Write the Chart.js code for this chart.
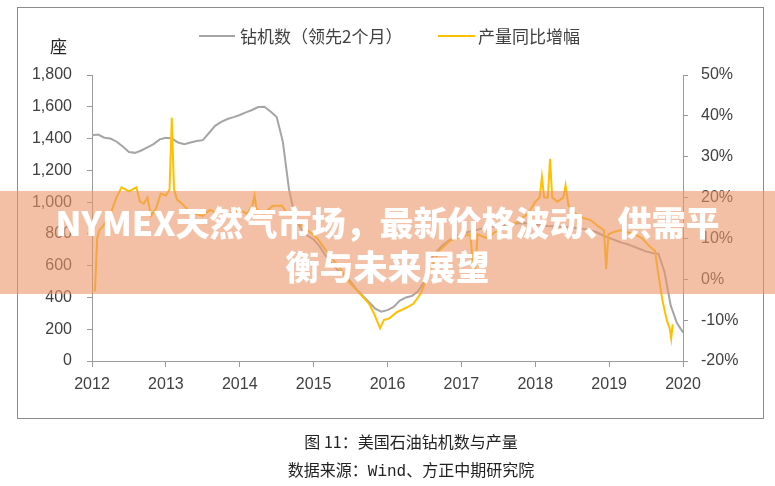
<!DOCTYPE html>
<html>
<head>
<meta charset="utf-8">
<script src="https://cdn.jsdelivr.net/npm/chart.js@4"></script>
<style>
  body { margin: 0; background: #fff; width: 775px; height: 486px; position: relative; overflow: hidden;
         font-family: 'Noto Sans CJK SC', 'Noto Sans', sans-serif; }
  #frame { position: absolute; left: 17px; top: 7px; width: 745px; height: 410px; border: 1px solid #8c8c8c; }
  #chart { position: absolute; left: 0; top: 0; }
  .lg-line { position: absolute; height: 2px; top: 35px; }
  .lg-text { position: absolute; top: 24px; font-size: 17px; line-height: 24px; color: #404040; white-space: nowrap; }
  #unit { position: absolute; left: 50px; top: 34px; font-size: 17px; line-height: 24px; color: #262626; }
  #banner { position: absolute; left: 0; top: 191px; width: 775px; height: 103px; background: rgba(236,150,105,0.6); }
  #banner div { padding-top: 9px; text-align: center; color: #fff; font-weight: 900; font-size: 34px; line-height: 44px; white-space: nowrap; }
  .cap { position: absolute; left: 111px; width: 600px; text-align: center; font-size: 16px; color: #222; line-height: 22px; }
  .mono { font-family: 'Liberation Mono', monospace; }
</style>
</head>
<body>
<div id="frame"></div>
<canvas id="chart" width="775" height="486"></canvas>

<div id="unit">座</div>
<div class="lg-line" style="left:199px;width:36px;background:#A5A5A5"></div>
<div class="lg-text" style="left:240px">钻机数（领先2个月）</div>
<div class="lg-line" style="left:438px;width:37px;background:#FFC000"></div>
<div class="lg-text" style="left:478px">产量同比增幅</div>

<div id="banner"><div>NYMEX天然气市场，最新价格波动、供需平<br>衡与未来展望</div></div>

<div class="cap" style="top:430px">图 11：美国石油钻机数与产量</div>
<div class="cap" style="top:458px">数据来源：<span class="mono">Wind</span>、方正中期研究院</div>

<script>
// 钻机数（领先2个月），月度，2012-01 ~ 2020-01
const rigCount = [
  1420, 1425, 1405, 1400, 1380, 1350, 1315, 1310, 1325, 1345, 1365, 1395,
  1405, 1400, 1375, 1365, 1375, 1385, 1390, 1435, 1480, 1505, 1523, 1535,
  1548, 1565, 1580, 1598, 1600, 1570, 1535, 1380, 1080, 900, 830, 790,
  765, 720, 660, 610, 570, 540, 500, 450, 410, 370, 330, 310,
  320, 340, 380, 400, 410, 440, 500, 640, 690, 730, 760, 780,
  800, 810, 820, 830, 840, 845, 850, 855, 860, 865, 868, 865,
  860, 855, 850, 848, 845, 843, 840, 835, 830, 822, 810, 790,
  775, 760, 745, 735, 720, 705, 690, 680, 675, 560, 350, 240,
  180
];

// 产量同比增幅（%），按时间点
const outputDates = [
  2012.04, 2012.07, 2012.10, 2012.15, 2012.25, 2012.33, 2012.40, 2012.45, 2012.50, 2012.55,
  2012.60, 2012.65, 2012.70, 2012.75, 2012.80, 2012.87, 2012.93, 2013.00, 2013.05, 2013.08,
  2013.11, 2013.15, 2013.22, 2013.30, 2013.40, 2013.50, 2013.60, 2013.70, 2013.80, 2013.90,
  2014.00, 2014.10, 2014.17, 2014.20, 2014.23, 2014.35, 2014.45, 2014.57, 2014.65, 2014.75,
  2014.85, 2014.95, 2015.05, 2015.15, 2015.25, 2015.35, 2015.45, 2015.55, 2015.65, 2015.75,
  2015.82, 2015.90, 2015.95, 2016.03, 2016.13, 2016.25, 2016.35, 2016.45, 2016.57, 2016.70,
  2016.85, 2017.00, 2017.12, 2017.18, 2017.22, 2017.35, 2017.45, 2017.60, 2017.75, 2017.90,
  2018.00, 2018.06, 2018.09, 2018.12, 2018.17, 2018.20, 2018.23, 2018.30, 2018.38, 2018.41,
  2018.45, 2018.55, 2018.65, 2018.75, 2018.85, 2018.93, 2018.96, 2018.99, 2019.05, 2019.15,
  2019.25, 2019.35, 2019.45, 2019.55, 2019.62, 2019.66, 2019.72, 2019.78, 2019.82, 2019.84,
  2019.86
];
const outputYoY = [
  -3, 10, 12, 13, 16, 20, 22.5, 22, 21.5, 22,
  22.5, 19, 18.5, 20, 15.5, 17.5, 21, 20.5, 22, 39.5,
  22, 19.5, 18.5, 17, 16, 15.5, 17, 16, 15, 16.5,
  17, 16, 18, 20.5, 17, 16.5, 18, 18, 16, 15,
  13, 11.5, 10, 7.5, 5, 3, 0, -2, -4, -6,
  -8.5, -12, -10, -9.5, -8, -7, -6, -3.5, 2, 7,
  9.5, 10.5, 11, 0, 11, 10, 11.5, 12.5, 14, 16,
  19, 20, 25, 20, 20, 29.5, 20, 19, 20, 23,
  18, 16, 15, 14.5, 13, 12, 2.5, 11, 11.5, 12,
  11.5, 11, 10, 8, 7, 2, -5, -10, -12, -14.5,
  -11
];

const startYear = 2012;
const endYear = 2020;

const rigPoints = rigCount.map((v, i) => ({ x: startYear + i / 12, y: v }));
const yoyPoints = outputDates.map((d, i) => ({ x: d, y: outputYoY[i] }));

const axisColor = '#9a9a9a';
const tickFont = { family: 'Liberation Sans', size: 16 };
const tickColor = '#404040';

new Chart(document.getElementById('chart').getContext('2d'), {
  type: 'line',
  data: {
    datasets: [
      {
        label: '产量同比增幅',
        data: yoyPoints,
        yAxisID: 'y1',
        borderColor: '#FFC000',
        borderWidth: 2,
        pointRadius: 0,
        tension: 0,
        order: 0
      },
      {
        label: '钻机数（领先2个月）',
        data: rigPoints,
        yAxisID: 'y',
        borderColor: '#A5A5A5',
        borderWidth: 2,
        pointRadius: 0,
        tension: 0,
        order: 1
      }
    ]
  },
  options: {
    responsive: false,
    animation: false,
    layout: { padding: { top: 75, left: 0, right: 0, bottom: 0 } },
    plugins: { legend: { display: false }, tooltip: { enabled: false } },
    scales: {
      x: {
        type: 'linear',
        min: startYear,
        max: endYear,
        ticks: { stepSize: 1, callback: v => String(v), color: tickColor, font: tickFont, padding: 8, maxRotation: 0 },
        grid: { drawOnChartArea: false, drawTicks: true, tickLength: 6, tickColor: axisColor },
        border: { color: axisColor, width: 1 },
        afterFit: s => { s.height = 125; }
      },
      y: {
        position: 'left',
        min: 0,
        max: 1800,
        ticks: { stepSize: 200, callback: v => v.toLocaleString('en-US'), color: tickColor, font: tickFont, padding: 15 },
        grid: { drawOnChartArea: false, drawTicks: true, tickLength: 5, tickColor: axisColor },
        border: { color: axisColor, width: 1 },
        afterFit: s => { s.width = 92; }
      },
      y1: {
        position: 'right',
        min: -20,
        max: 50,
        ticks: { stepSize: 10, callback: v => v + '%', color: tickColor, font: tickFont, padding: 13 },
        grid: { drawOnChartArea: false, drawTicks: true, tickLength: 5, tickColor: axisColor },
        border: { color: axisColor, width: 1 },
        afterFit: s => { s.width = 92; }
      }
    }
  }
});
</script>
</body>
</html>
